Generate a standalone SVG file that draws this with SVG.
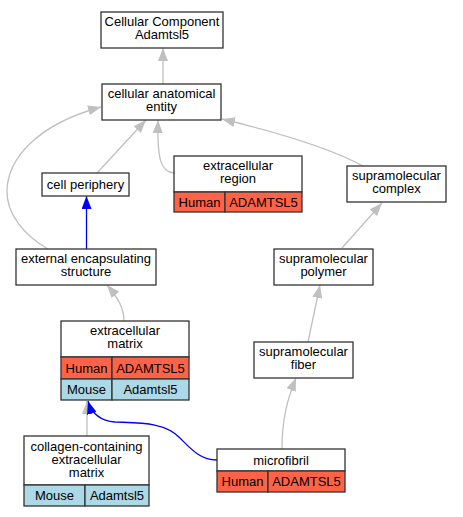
<svg xmlns="http://www.w3.org/2000/svg" width="463" height="517" viewBox="0 0 463 517">
<defs>
<marker id="ag" markerUnits="userSpaceOnUse" markerWidth="13" markerHeight="10" refX="13" refY="5" orient="auto"><path d="M0,0 L13,5 L0,10 z" fill="#c0c0c0"/></marker>
<marker id="ab" markerUnits="userSpaceOnUse" markerWidth="13" markerHeight="10" refX="13" refY="5" orient="auto"><path d="M0,0 L13,5 L0,10 z" fill="#0000ff"/></marker>
</defs>
<style>
text{font-family:"Liberation Sans",Arial,sans-serif;font-size:13px;text-anchor:middle;fill:#000}
.b{fill:#fff;stroke:#333;stroke-width:1.3}
.h{fill:#ff6347;stroke:#333;stroke-width:1.3}
.m{fill:#add8e6;stroke:#333;stroke-width:1.3}
.eg{fill:none;stroke:#c0c0c0;stroke-width:1.3;marker-end:url(#ag)}
.eb{fill:none;stroke:#0000ff;stroke-width:1.3;marker-end:url(#ab)}
</style>
<rect width="463" height="517" fill="#fff"/>
<g id="edges">
<path class="eg" d="M163,84 L163,48"/>
<path class="eg" d="M97,173 L146,120"/>
<path class="eg" d="M174,173 C161,172 157,160 158,120"/>
<path class="eg" d="M363,166 C330,148 280,133 222,119"/>
<path class="eg" d="M48,249 C25,236 6,214 7,190 C8,160 35,125 101,107"/>
<path class="eb" d="M86.5,249 L86.5,196"/>
<path class="eg" d="M342,248 L382,203"/>
<path class="eg" d="M124,321 C124,308 118,298 107,285"/>
<path class="eg" d="M308,342 L320,285"/>
<path class="eg" d="M282,449 C282,420 287,400 296,378"/>
<path class="eg" d="M87,436 L87,401"/>
<path class="eb" d="M217,460 C200,460 190,448 180,438 C165,422 140,423 115,422 C100,421 92,414 88,401"/>
</g>
<g id="n1"><rect class="b" x="101" y="12" width="122" height="36"/><text x="162" y="26">Cellular Component</text><text x="162" y="39">Adamtsl5</text></g>
<g id="n2"><rect class="b" x="102" y="84" width="119" height="36"/><text x="161.5" y="98">cellular anatomical</text><text x="161.5" y="111">entity</text></g>
<g id="n3"><rect class="b" x="42" y="173" width="87" height="23"/><text x="85.5" y="189">cell periphery</text></g>
<g id="n4"><rect class="b" x="174" y="156" width="128" height="36"/><text x="238" y="170">extracellular</text><text x="238" y="183">region</text>
<rect class="h" x="174" y="192" width="51" height="20"/><rect class="h" x="225" y="192" width="77" height="20"/><text x="199.5" y="207">Human</text><text x="263.5" y="207">ADAMTSL5</text></g>
<g id="n5"><rect class="b" x="347" y="166" width="99" height="36"/><text x="396.5" y="180">supramolecular</text><text x="396.5" y="193">complex</text></g>
<g id="n6"><rect class="b" x="16" y="249" width="140" height="36"/><text x="86" y="263">external encapsulating</text><text x="86" y="276">structure</text></g>
<g id="n7"><rect class="b" x="274" y="249" width="99" height="36"/><text x="323.5" y="263">supramolecular</text><text x="323.5" y="276">polymer</text></g>
<g id="n8"><rect class="b" x="61" y="321" width="128" height="36"/><text x="125" y="335">extracellular</text><text x="125" y="348">matrix</text>
<rect class="h" x="61" y="357" width="51" height="22"/><rect class="h" x="112" y="357" width="77" height="22"/><text x="86.5" y="372.5">Human</text><text x="150.5" y="372.5">ADAMTSL5</text>
<rect class="m" x="61" y="379" width="51" height="21"/><rect class="m" x="112" y="379" width="77" height="21"/><text x="86.5" y="394">Mouse</text><text x="150.5" y="394">Adamtsl5</text></g>
<g id="n9"><rect class="b" x="254" y="342" width="99" height="36"/><text x="303.5" y="356">supramolecular</text><text x="303.5" y="369">fiber</text></g>
<g id="n10"><rect class="b" x="24" y="436" width="125" height="49"/><text x="86.5" y="451">collagen-containing</text><text x="86.5" y="464">extracellular</text><text x="86.5" y="477">matrix</text>
<rect class="m" x="24" y="485" width="61" height="21"/><rect class="m" x="85" y="485" width="64" height="21"/><text x="54.5" y="500">Mouse</text><text x="117" y="500">Adamtsl5</text></g>
<g id="n11"><rect class="b" x="217" y="449" width="128" height="22"/><text x="281" y="464.5">microfibril</text>
<rect class="h" x="217" y="471" width="51" height="21"/><rect class="h" x="268" y="471" width="77" height="21"/><text x="242.5" y="486">Human</text><text x="306.5" y="486">ADAMTSL5</text></g>
</svg>
